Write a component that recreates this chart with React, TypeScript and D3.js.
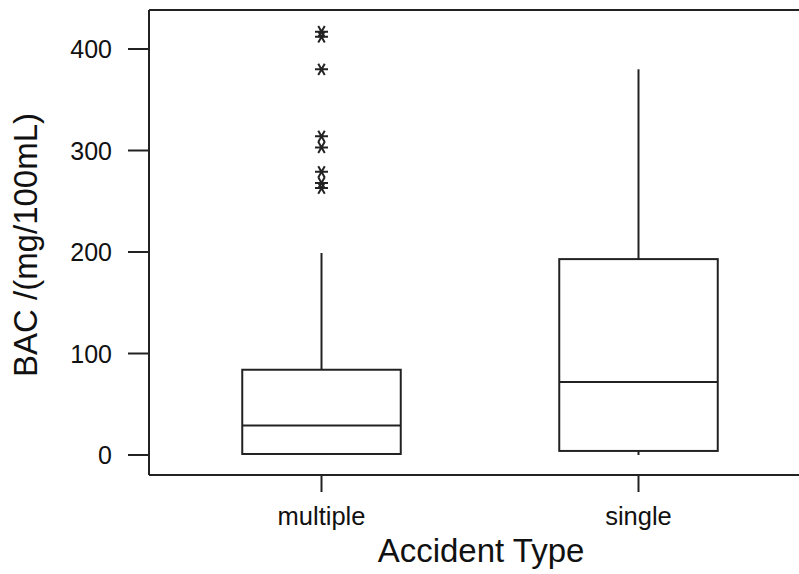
import React from "react";
import * as d3 from "d3";

const categories = ["multiple", "single"];
const q1 = [1, 4];
const medians = [29, 72];
const q3 = [84, 193];
const whiskerLow = [0, 0];
const whiskerHigh = [199, 380];
const outliersMultiple = [417, 412, 380, 314, 303, 279, 268, 263];
const yTicks = [0, 100, 200, 300, 400];

const W = 799;
const H = 574;
const left = 149;
const top = 10;
const bottom = 475;

export default function App() {
  const y = d3.scaleLinear().domain([0, 400]).range([455, 49]);
  const x = d3.scaleBand().domain(categories).range([163, 797]).paddingInner(0.5).paddingOuter(0.25);
  const bw = x.bandwidth();
  const stroke = "#222";
  const star = (cx: number, cy: number, r: number) => {
    const p = d3.path();
    for (let k = 0; k < 3; k++) {
      const a = (k * Math.PI) / 3;
      p.moveTo(cx - r * Math.cos(a), cy - r * Math.sin(a));
      p.lineTo(cx + r * Math.cos(a), cy + r * Math.sin(a));
    }
    return p.toString();
  };
  return (
    <svg width={W} height={H} style={{ position: "absolute", left: 0, top: 0, background: "#fff" }} fontFamily="Liberation Sans, Arial, sans-serif">
      <rect width={W} height={H} fill="#fff" />
      <line x1={left} x2={W} y1={top} y2={top} stroke={stroke} strokeWidth={2} />
      <line x1={left} x2={left} y1={top} y2={bottom} stroke={stroke} strokeWidth={2} />
      <line x1={left} x2={W} y1={bottom} y2={bottom} stroke={stroke} strokeWidth={2} />
      {yTicks.map((t) => (
        <g key={t}>
          <line x1={left - 21} x2={left} y1={y(t)} y2={y(t)} stroke={stroke} strokeWidth={2} />
          <text x={112} y={y(t)} dy="0.36em" textAnchor="end" fontSize={25} fill="#111">{t}</text>
        </g>
      ))}
      {categories.map((c, i) => {
        const x0 = x(c) as number;
        const cx = x0 + bw / 2;
        return (
          <g key={c}>
            <line x1={cx} x2={cx} y1={bottom} y2={bottom + 17} stroke={stroke} strokeWidth={2} />
            <text x={cx} y={525} textAnchor="middle" fontSize={25.5} fill="#111">{c}</text>
            <line x1={cx} x2={cx} y1={y(q3[i])} y2={y(whiskerHigh[i])} stroke={stroke} strokeWidth={2} />
            <line x1={cx} x2={cx} y1={y(q1[i])} y2={y(whiskerLow[i])} stroke={stroke} strokeWidth={2} />
            <rect x={x0} y={y(q3[i])} width={bw} height={y(q1[i]) - y(q3[i])} fill="none" stroke={stroke} strokeWidth={2} />
            <line x1={x0} x2={x0 + bw} y1={y(medians[i])} y2={y(medians[i])} stroke={stroke} strokeWidth={2} />
          </g>
        );
      })}
      {outliersMultiple.map((v, j) => {
        const cx = (x("multiple") as number) + bw / 2;
        return <path key={j} d={star(cx, y(v), 6.5)} stroke={stroke} strokeWidth={2} fill="none" />;
      })}
      <text x={481} y={562} textAnchor="middle" fontSize={33} fill="#111">Accident Type</text>
      <text transform={`translate(37, 245) rotate(-90)`} textAnchor="middle" fontSize={33} fill="#111">BAC /(mg/100mL)</text>
    </svg>
  );
}
